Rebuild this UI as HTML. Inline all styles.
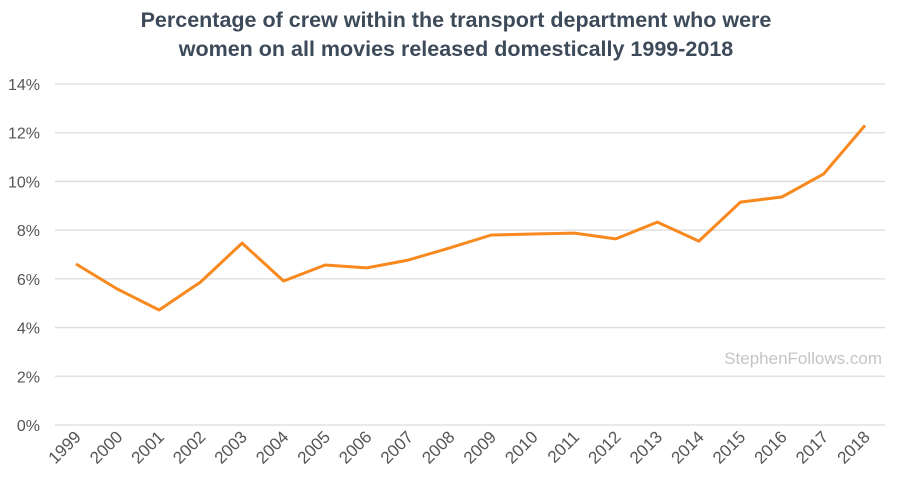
<!DOCTYPE html>
<html><head><meta charset="utf-8"><style>
body{margin:0;background:#fff;font-family:"Liberation Sans",sans-serif;}
svg{display:block}
</style></head><body>
<svg id="chart" width="900" height="492">
<text x="456" y="27" text-anchor="middle" font-size="21.5" font-weight="bold" fill="#3d4a5a">Percentage of crew within the transport department who were</text>
<text x="456" y="56" text-anchor="middle" font-size="21.5" font-weight="bold" fill="#3d4a5a">women on all movies released domestically 1999-2018</text>
<text x="882" y="364" text-anchor="end" font-size="17" fill="#c4c4c4">StephenFollows.com</text>
<g id="grid"></g><g id="xl"></g><path id="line" fill="none" stroke="#f7891f" stroke-width="3" stroke-linejoin="round"/>
</svg>
<script>
const years=["1999","2000","2001","2002","2003","2004","2005","2006","2007","2008","2009","2010","2011","2012","2013","2014","2015","2016","2017","2018"];
const values=[6.61,5.58,4.72,5.87,7.47,5.91,6.57,6.45,6.77,7.27,7.8,7.84,7.88,7.64,8.33,7.55,9.15,9.36,10.3,12.3];
const yTicks=[0,2,4,6,8,10,12,14];
const ns="http://www.w3.org/2000/svg";
const y=v=>425-v*(341/14);
const x=i=>76+i*(789/19);
const g=document.getElementById('grid'),xl=document.getElementById('xl');
yTicks.forEach(t=>{
 const l=document.createElementNS(ns,'line');
 l.setAttribute('x1',55);l.setAttribute('x2',885);l.setAttribute('y1',y(t));l.setAttribute('y2',y(t));
 l.setAttribute('stroke','#dcdcdc');l.setAttribute('stroke-width',1.3);
 
 
 g.appendChild(l);
 const tx=document.createElementNS(ns,'text');
 tx.setAttribute('x',40);tx.setAttribute('y',y(t)+6);tx.setAttribute('text-anchor','end');
 tx.setAttribute('font-size',16);tx.setAttribute('fill','#555');tx.textContent=t+'%';
 
 
 g.appendChild(tx);
});
years.forEach((yr,i)=>{
 const tx=document.createElementNS(ns,'text');
 const px=x(i)+6,py=438;
 tx.setAttribute('x',px);tx.setAttribute('y',py);tx.setAttribute('text-anchor','end');
 tx.setAttribute('transform','rotate(-45 '+px+' '+py+')');
 tx.setAttribute('font-size',17);tx.setAttribute('fill','#555');tx.textContent=yr;
 
 
 xl.appendChild(tx);
});
document.getElementById('line').setAttribute('d',values.map((v,i)=>(i?'L':'M')+x(i).toFixed(1)+','+y(v).toFixed(1)).join(''));
</script>
</body></html>
